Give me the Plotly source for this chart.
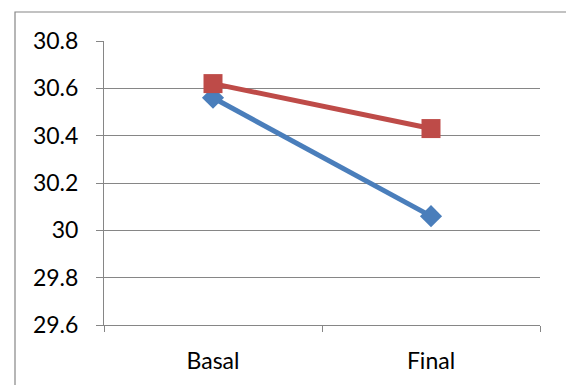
import plotly.graph_objects as go

# Category labels and series values
categories = ["Basal", "Final"]
series_blue = [30.56, 30.06]
series_red = [30.62, 30.43]

y_ticks = [29.6, 29.8, 30.0, 30.2, 30.4, 30.6, 30.8]
y_tick_labels = ["29.6", "29.8", "30", "30.2", "30.4", "30.6", "30.8"]

W, H = 566, 385
L, R, T, B = 104, 26, 41, 60
plot_w = W - L - R
plot_h = H - T - B

grid_col = "#868686"
font = dict(family="Lato, Open Sans, sans-serif", size=23, color="#000000")

fig = go.Figure()
fig.add_trace(go.Scatter(
    x=categories, y=series_blue, mode="lines+markers",
    line=dict(color="#4A7EBB", width=5),
    marker=dict(symbol="diamond", size=17, color="#4A7EBB"),
    showlegend=False,
))
fig.add_trace(go.Scatter(
    x=categories, y=series_red, mode="lines+markers",
    line=dict(color="#BE4B48", width=5),
    marker=dict(symbol="square", size=19, color="#BE4B48"),
    showlegend=False,
))

# outer chart-area border
bx0 = (15 - L) / plot_w
by1 = (H - B - 12) / plot_h
fig.add_shape(type="rect", xref="paper", yref="paper",
              x0=bx0, x1=1.3, y0=-0.5, y1=by1,
              line=dict(color=grid_col, width=1.2), fillcolor="rgba(0,0,0,0)",
              layer="below")

fig.update_layout(
    width=W, height=H,
    margin=dict(l=L, r=R, t=T, b=B, pad=0),
    paper_bgcolor="white", plot_bgcolor="white",
    font=font,
    xaxis=dict(
        type="category", range=[-0.5, 1.5],
        tickson="boundaries", ticks="outside", ticklen=6, tickcolor=grid_col,
        showline=True, linecolor=grid_col, linewidth=1,
        showgrid=False, zeroline=False, ticklabelstandoff=15,
    ),
    yaxis=dict(
        range=[29.6, 30.8], tickvals=y_ticks, ticktext=y_tick_labels,
        ticks="outside", ticklen=7, tickcolor=grid_col,
        showline=True, linecolor=grid_col, linewidth=1,
        showgrid=True, gridcolor=grid_col, gridwidth=1,
        zeroline=False, ticklabelstandoff=13,
    ),
)

fig.write_html("out.html")
